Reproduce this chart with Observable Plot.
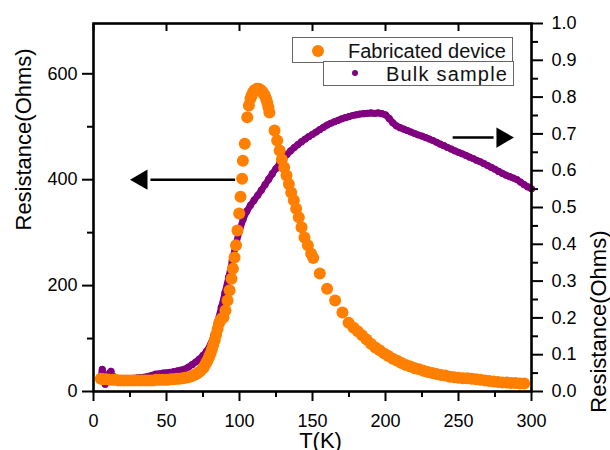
<!DOCTYPE html>
<html><head><meta charset="utf-8">
<script src="https://cdn.jsdelivr.net/npm/d3@7"></script>
<script src="https://cdn.jsdelivr.net/npm/@observablehq/plot@0.6"></script>
<style>
body{margin:0;background:#fff;font-family:"Liberation Sans",Arial,sans-serif;}
#wrap{position:relative;width:610px;height:450px;overflow:hidden;background:#fff;}
.box{position:absolute;border:1.5px solid #666;background:#fff;box-sizing:border-box;}
.lt{position:absolute;font-size:20px;line-height:20px;color:#111;white-space:nowrap;}
.ld{position:absolute;border-radius:50%;}
</style></head><body><div id="wrap"></div>
<script>
// Fabricated device (left axis, Ohms)
const fabT = [5,7,9,11,13,15,17,19,21,23,25,27,29,31,33,35,37,39,41,43,45,47,49,51,53,55,57,59,61,63,65,67,69,71,73,75,76,77,78,79,80,81,82,83,84,85,86,87,88,
  89,90.4,91.8,93.2,94.5,95.5,96.6,97.6,98.6,99.8,100.7,101.8,102.3,103.6,105.3,106.4,
  107.5,108.3,109.1,110,111,112,113.2,114.3,115.5,116.4,117.3,118.2,119,119.8,120.5,
  124,125.8,127.5,129,130.6,132.2,133.8,135.4,137.2,138.8,140.6,142.5,144.5,146.8,149.1,150.5,155,160,165.5,170.5,174.7,178,181,184,187,190,193,196,199,202,205,208,211,214,217,220,223,226,229,232,235,238,241,244,247,250,253,256,259,262,265,268,271,274,277,280,283,286,289,292,295];
const fabR = [24,23,23,22,22,22,21,21,21,21,21,21,21,21,21,21,21,21,21,22,22,22,22,22,23,23,24,24,25,26,27,29,31,34,38,44,48,53,58,64,71,79,88,97,107,118,129,135,138,
  140,153,172,191,213,232,253,276,304,336,368,402,436,468,518,540,
  553,559,564,568,570,572,572,570,567,563,559,553,546,537,527,
  493,474,455,438,423,408,392,376,361,345,329,310,291,276,260,252,223,194,172,149,130,121,114,106,98,90,83,78,72,67,62,58,54,50,47,44,42,39,37,35,33,31,30,28,27,26,25,25,24,23,22,21,20,19,18,17,17,16,16,15,15];
// Bulk sample (right axis, Ohms)
const bulkT = [5,6,7,8,9,10,11,12,13,14,16,18,20,22.5,25,27.5,30,32.5,35,37.5,40,42.5,45,47.5,50,52.5,55,57.5,60,62.5,65,67.5,70,72.5,75,77.5,80,82.5,85,87.5,90,92.5,95,97.5,100,102.5,105,107.5,110,112.5,115,117.5,120,122.5,125,127.5,130,132.5,135,137.5,140,142.5,145,147.5,150,152.5,155,157.5,160,162.5,165,167.5,170,172.5,175,177.5,180,182.5,185,187.5,190,192.5,195,197.5,200,202.5,205,207.5,210,212.5,215,217.5,220,222.5,225,227.5,230,232.5,235,237.5,240,242.5,245,247.5,250,252.5,255,257.5,260,262.5,265,267.5,270,272.5,275,277.5,280,282.5,285,287.5,290,292.5,295,297.5,300];
const bulkR = [0.04,0.06,0.035,0.02,0.04,0.035,0.05,0.055,0.03,0.04,0.035,0.035,0.035,0.035,0.035,0.036,0.037,0.038,0.039,0.041,0.044,0.047,0.048,0.05,0.051,0.052,0.054,0.056,0.058,0.061,0.066,0.073,0.08,0.088,0.098,0.11,0.127,0.152,0.19,0.228,0.268,0.31,0.355,0.4,0.437,0.468,0.49,0.506,0.52,0.533,0.547,0.562,0.577,0.592,0.606,0.619,0.633,0.644,0.654,0.663,0.671,0.679,0.686,0.693,0.699,0.705,0.712,0.718,0.724,0.729,0.733,0.737,0.741,0.744,0.747,0.75,0.752,0.754,0.755,0.756,0.757,0.756,0.757,0.755,0.752,0.742,0.73,0.722,0.717,0.713,0.709,0.705,0.701,0.697,0.694,0.69,0.686,0.682,0.677,0.672,0.668,0.663,0.659,0.654,0.65,0.646,0.642,0.637,0.633,0.628,0.624,0.619,0.614,0.609,0.604,0.598,0.593,0.588,0.584,0.58,0.576,0.569,0.562,0.556,0.551];

const xMajor = [0,50,100,150,200,250,300];
const xMinor = [25,75,125,175,225,275];
const leftMajor = [0,200,400,600];
const leftMinor = [100,300,500];
const rightMajor = [0,0.1,0.2,0.3,0.4,0.5,0.6,0.7,0.8,0.9,1.0];
const rightMinor = [0.05,0.15,0.25,0.35,0.45,0.55,0.65,0.75,0.85,0.95];
const seriesNames = ["Fabricated device","Bulk sample"];
const seriesColors = ["#ff7f00","#800080"];
const yTitle = "Resistance(Ohms)";
const xTitle = "T(K)";
// arrows: from T, to T, level
const leftArrow = {t1: 97, t2: 27, v: 400};      // left axis units
const rightArrow = {t1: 246, t2: 286, v: 0.69};  // right axis units

const xDomain = [0, 300];
const leftMax = 695; // left axis top; right axis 1.0 maps to this
const K = leftMax / 1.0;

const fab = fabT.map((t,i)=>({T:t, R:fabR[i]}));
const bulk = bulkT.map((t,i)=>({T:t, R:bulkR[i]*K}));
const font = "Liberation Sans, Arial, sans-serif";

const arrowData = [
  {x1: leftArrow.t1, x2: leftArrow.t2 + 12, y: leftArrow.v, hx: leftArrow.t2 + 6, rot: -90},
  {x1: rightArrow.t1, x2: rightArrow.t2 - 12, y: rightArrow.v*K, hx: rightArrow.t2 - 6, rot: 90}
];

const chart = Plot.plot({
  width: 610, height: 450,
  marginLeft: 93, marginRight: 79, marginTop: 23, marginBottom: 59,
  style: {fontFamily: font, fontSize: "18px", background: "#fff", color: "#000", overflow: "visible"},
  x: {domain: xDomain},
  y: {domain: [0,leftMax]},
  marks: [
    Plot.line(bulk, {x:"T", y:"R", stroke: seriesColors[1], strokeWidth: 6.5, curve: "linear"}),
    Plot.dot(bulk, {x:"T", y:"R", r: 3.6, fill: seriesColors[1]}),
    Plot.dot(fab, {x:"T", y:"R", r: 6, fill: seriesColors[0]}),
    Plot.link(arrowData, {x1:"x1", x2:"x2", y1:"y", y2:"y", stroke:"#000", strokeWidth: 2.5}),
    Plot.dot(arrowData, {x:"hx", y:"y", symbol:"triangle", rotate:"rot", r: 7.5, fill:"#000", stroke:"none"}),
    Plot.frame({stroke:"#000", strokeWidth: 2.6}),
    Plot.axisX(xMajor, {anchor:"bottom", tickSize: 10, tickPadding: 13, fontSize: 18, strokeWidth: 2, label: null}),
    Plot.axisX(xMinor, {anchor:"bottom", tickSize: 6, strokeWidth: 2, tickFormat: () => "", label: null}),
    Plot.axisX(xMajor, {anchor:"top", tickSize: 7, dy: 7, strokeWidth: 2, tickFormat: () => "", label: null}),
    Plot.axisY(leftMajor, {anchor:"left", tickSize: 11, tickPadding: 5, fontSize: 18, strokeWidth: 2, label: null}),
    Plot.axisY(leftMinor, {anchor:"left", tickSize: 6, strokeWidth: 2, tickFormat: () => "", label: null}),
    Plot.axisY(rightMajor.map(v=>v*K), {anchor:"right", tickSize: 11, tickPadding: 9, fontSize: 18, strokeWidth: 2, tickFormat: d => (d/K).toFixed(1), label: null}),
    Plot.axisY(rightMinor.map(v=>v*K), {anchor:"right", tickSize: 6, strokeWidth: 2, tickFormat: () => "", label: null}),
    Plot.text([yTitle], {frameAnchor:"left", rotate:-90, dx:-70, dy:23, fontSize:22, fill:"#000"}),
    Plot.text([yTitle], {frameAnchor:"right", rotate:-90, dx:67, dy:23, fontSize:22, fill:"#000"}),
    Plot.text([xTitle], {frameAnchor:"bottom", lineAnchor:"bottom", dy:56, dx:8, fontSize:22, fill:"#000"})
  ]
});
const wrap = document.getElementById("wrap");
wrap.appendChild(chart);

// legend (inside plot area)
function el(cls, css, text){const d=document.createElement("div");d.className=cls;Object.assign(d.style,css);if(text)d.textContent=text;wrap.appendChild(d);return d;}
el("box",{left:"292px",top:"37px",width:"221px",height:"26px"});
el("box",{left:"323px",top:"61px",width:"191px",height:"25px"});
el("ld",{left:"312px",top:"45px",width:"12px",height:"12px",background:seriesColors[0]});
el("ld",{left:"352px",top:"70px",width:"6px",height:"6px",background:seriesColors[1]});
el("lt",{left:"348px",top:"41px"}, seriesNames[0]);
el("lt",{left:"386px",top:"64px",letterSpacing:"1.2px"}, seriesNames[1]);
</script></body></html>
